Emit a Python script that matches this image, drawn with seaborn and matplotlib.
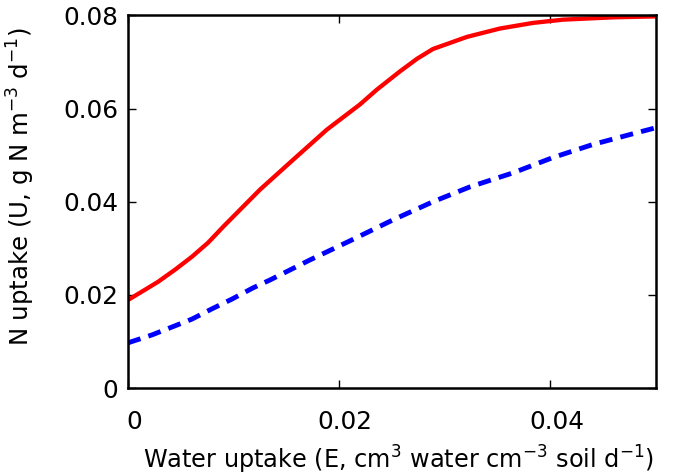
import matplotlib
matplotlib.use("Agg")
import matplotlib.pyplot as plt
import matplotlib.transforms as mtransforms
import seaborn as sns
import pandas as pd

# Data
red_x = [0.0, 0.00161, 0.00284, 0.00445, 0.00606, 0.00758, 0.00909, 0.0125,
         0.01563, 0.01884, 0.02197, 0.02358, 0.02576, 0.02737, 0.02888,
         0.0321, 0.03523, 0.03835, 0.04119, 0.04593, 0.05]
red_y = [0.0189, 0.0211, 0.0228, 0.0254, 0.0282, 0.0312, 0.0348, 0.0426,
         0.0490, 0.0555, 0.0609, 0.0641, 0.0680, 0.0707, 0.0728,
         0.0754, 0.0772, 0.0784, 0.0791, 0.0796, 0.0798]
blue_x = [0.0, 0.00227, 0.00417, 0.00606, 0.00795, 0.00985, 0.01184, 0.01345,
          0.01723, 0.02102, 0.02509, 0.02888, 0.03239, 0.03646, 0.04025,
          0.04403, 0.04782, 0.05]
blue_y = [0.0097, 0.0114, 0.0131, 0.0148, 0.0170, 0.0191, 0.0215, 0.0232,
          0.0275, 0.0316, 0.0361, 0.0400, 0.0432, 0.0462, 0.0495,
          0.0523, 0.0546, 0.0559]

x_ticks = [0, 0.02, 0.04]
x_tick_labels = ["0", "0.02", "0.04"]
y_ticks = [0, 0.02, 0.04, 0.06, 0.08]
y_tick_labels = ["0", "0.02", "0.04", "0.06", "0.08"]

sns.set_style("ticks")
plt.rcParams['font.family'] = ['DejaVu Sans']
plt.rcParams['mathtext.fontset'] = 'dejavusans'
plt.rcParams['mathtext.default'] = 'regular'
plt.rcParams['text.color'] = 'black'
plt.rcParams['axes.labelcolor'] = 'black'
plt.rcParams['xtick.color'] = 'black'
plt.rcParams['ytick.color'] = 'black'

fig = plt.figure(figsize=(6.81, 4.76), dpi=100)
ax = fig.add_axes([128/681, 88/476, (656-128)/681, (388-15)/476])

df_red = pd.DataFrame({"x": red_x, "y": red_y})
df_blue = pd.DataFrame({"x": blue_x, "y": blue_y})
sns.lineplot(data=df_red, x="x", y="y", ax=ax, color="#ff0000", lw=3.1)
sns.lineplot(data=df_blue, x="x", y="y", ax=ax, color="#0000ff", lw=3.5)
ax.lines[-1].set_dashes([2.7, 1.7])

ax.set_xlim(0, 0.05)
ax.set_ylim(0, 0.0801)
ax.set_xticks(x_ticks)
ax.set_xticklabels(x_tick_labels)
ax.set_yticks(y_ticks)
ax.set_yticklabels(y_tick_labels)
ax.tick_params(axis='both', direction='in', top=True, right=True,
               length=6, width=1.0, labelsize=17.8, colors='black')
ax.tick_params(axis='x', pad=16)
ax.tick_params(axis='y', pad=7)
for s in ax.spines.values():
    s.set_linewidth(1.8)
    s.set_color('black')

# small rightward shift of x tick labels as in the reference
shift = mtransforms.ScaledTranslation(0.06, 0, fig.dpi_scale_trans)
for lab in ax.get_xticklabels():
    lab.set_transform(lab.get_transform() + shift)

ax.set_xlabel("Water uptake (E, cm$^{3}$ water cm$^{-3}$ soil d$^{-1}$)",
              fontsize=17.3)
ax.set_ylabel("N uptake (U, g N m$^{-3}$ d$^{-1}$)", fontsize=17.6)
ax.yaxis.set_label_coords(-0.172, 0.54)
ax.xaxis.set_label_coords(0.513, -0.15)

fig.savefig("out.png", dpi=100)
